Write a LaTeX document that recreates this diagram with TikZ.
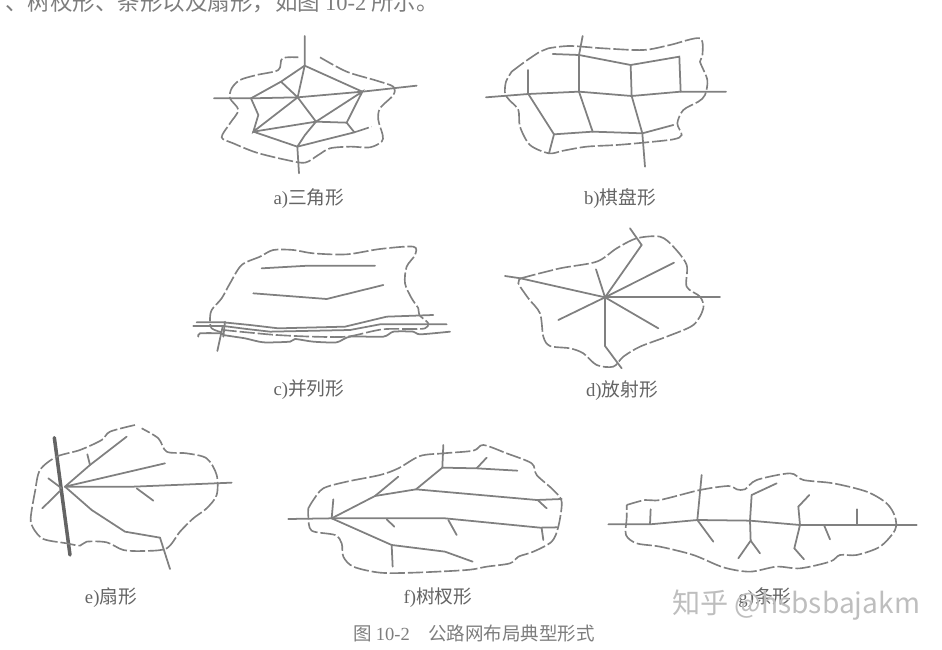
\documentclass[tikz,border=0pt]{standalone}
\usepackage{fontspec}
\setmainfont{Liberation Serif}
\newfontfamily\cjk{Noto Sans CJK SC}
\usepackage{xcolor}
\definecolor{Col1}{RGB}{128,128,128}
\definecolor{Col2}{RGB}{100,100,100}
\definecolor{Col3}{RGB}{125,125,125}
\definecolor{Col4}{RGB}{190,190,190}
\tikzstyle{Edge}=[draw=Col1,line cap=round,line width=1.5pt]
\tikzstyle{EdgeThick}=[Edge,draw=Col2,line width=3pt]
\tikzstyle{Border}=[draw=Col1,line width=1.4pt,dash pattern=on 13pt off 2.5pt]
\tikzstyle{NodeST}=[inner sep=0pt,text=Col2,font=\fontsize{16}{17}\selectfont\cjk]
\tikzstyle{NodeText}=[inner sep=0pt,anchor=west,text=Col3,font=\fontsize{19.2}{20}\selectfont\cjk]
\tikzstyle{NodeCap}=[inner sep=0pt,anchor=west,text=Col3,font=\fontsize{15.8}{17}\selectfont\cjk]
\tikzstyle{NodeMark}=[inner sep=0pt,anchor=west,text=Col4,font=\fontsize{24}{25}\selectfont\cjk]
\begin{document}
\begin{tikzpicture}[x=.03cm,y=-.03cm]
    \useasboundingbox(0,0)rectangle(942,650);
    \node[NodeText](top)at(5,2){、树杈形、条形以及扇形，如图 {\rmfamily 10-2} 所示。};
    \begin{scope}[shift={(190,20)},scale=1/3]
        \coordinate(a0)at(344,48);
        \coordinate(a1)at(344,137);
        \coordinate(a2)at(72,235);
        \coordinate(a3)at(183,235);
        \coordinate(a4)at(323,232);
        \coordinate(a5)at(517,215);
        \coordinate(a6)at(680,197);
        \coordinate(a7)at(273,185);
        \coordinate(a8)at(205,285);
        \coordinate(a9)at(190,335);
        \coordinate(a10)at(378,305);
        \coordinate(a11)at(470,308);
        \coordinate(a12)at(493,337);
        \coordinate(a13)at(322,380);
        \coordinate(a14)at(327,460);
        \coordinate(a15)at(345,345);
        \coordinate(a16)at(545,320);
        \draw[Edge](a0)--(a1)--(a4);
        \draw[Edge](a2)--(a3)--(a4)--(a5)--(a6);
        \draw[Edge](a3)--(a7)--(a1)--(a5);
        \draw[Edge](a7)--(a4)--(a9)--(a8)--(a3);
        \draw[Edge](a4)--(a10)--(a5)--(a11)--(a12);
        \draw[Edge](a10)--(a11);
        \draw[Edge](a9)--(a10)--(a15)--(a13);
        \draw[Edge](a9)--(a13)--(a12);
        \draw[Edge](a13)--(a14);
        \draw[Border](a12)--(a16);
        \draw[Border]plot[smooth,tension=.5]coordinates{(390,112)(470,155)(560,182)(610,200)(610,225)(570,265)(565,300)(578,345)(575,365)(540,382)(480,380)(420,385)(385,405)(345,428)(290,420)(200,398)(130,370)(95,352)(120,310)(145,270)(120,235)(125,205)(150,180)(200,165)(265,150)(277,115)(325,112)};
    \end{scope}
    \begin{scope}[shift={(470,20)},scale=1/3]
        \coordinate(b0)at(338,48);
        \coordinate(b1)at(327,105);
        \coordinate(b2)at(248,102);
        \coordinate(b3)at(482,135);
        \coordinate(b4)at(628,110);
        \coordinate(b5)at(175,150);
        \coordinate(b6)at(48,232);
        \coordinate(b7)at(175,222);
        \coordinate(b8)at(327,215);
        \coordinate(b9)at(485,228);
        \coordinate(b10)at(632,215);
        \coordinate(b11)at(768,215);
        \coordinate(b12)at(252,343);
        \coordinate(b13)at(368,335);
        \coordinate(b14)at(517,340);
        \coordinate(b15)at(610,315);
        \coordinate(b16)at(237,400);
        \coordinate(b17)at(525,440);
        \draw[Edge](b2)--(b1)--(b3)--(b4)--(b10);
        \draw[Edge](b0)--(b1)--(b8);
        \draw[Edge](b3)--(b9);
        \draw[Edge](b5)--(b7);
        \draw[Edge](b6)--(b7)--(b8)--(b9)--(b10)--(b11);
        \draw[Edge](b7)--(b12)--(b16);
        \draw[Edge](b8)--(b13);
        \draw[Edge](b9)--(b14)--(b17);
        \draw[Edge](b12)--(b13)--(b14)--(b15);
        \draw[Border]plot[smooth,tension=.5]coordinates{(125,155)(165,125)(210,95)(235,85)(300,78)(400,85)(520,90)(600,75)(690,55)(697,110)(690,125)(712,180)(705,225)(685,245)(640,270)(622,310)(635,345)(610,358)(520,368)(440,375)(350,380)(280,392)(237,400)(180,375)(150,320)(145,270)(118,240)(105,220)(108,185)(125,155)};
    \end{scope}
    \begin{scope}[shift={(180,225)},scale=1/3]
        \coordinate(c0)at(245,130);
        \coordinate(c1)at(385,122);
        \coordinate(c2)at(585,122);
        \coordinate(c3)at(220,205);
        \coordinate(c4)at(440,222);
        \coordinate(c5)at(610,180);
        \coordinate(c6)at(128,305);
        \coordinate(c7)at(112,378);
        \coordinate(c8)at(135,290);
        \coordinate(c9)at(130,335);
        \draw[Edge](c0)--(c1)--(c2);
        \draw[Edge](c3)--(c4)--(c5);
        \draw[Edge](c6)--(c7);
        \draw[Edge](c8)--(c9);
        \draw[Edge](50,292)--(130,292)--(210,300)--(295,310)--(495,305)--(620,275)--(760,270);
        \draw[Edge](40,303)--(130,303)--(200,312)--(270,320)--(510,315)--(600,298)--(800,298);
        \draw[Edge]plot[smooth,tension=.4]coordinates{(55,335)(60,325)(125,325)(130,330)(195,340)(250,352)(330,350)(345,342)(400,350)(470,352)(510,335)(610,335)(640,320)(700,320)(720,328)(810,320)};
        \draw[Border]plot[smooth,tension=.5]coordinates{(125,322)(95,310)(90,285)(95,255)(125,220)(150,175)(185,120)(240,95)(280,75)(340,75)(400,85)(500,88)(600,72)(700,65)(705,90)(680,125)(675,175)(695,220)(715,250)(718,270)(745,295)(735,310)(700,312)(620,312)(580,318)(500,335)(400,335)(290,330)(200,322)(130,315)};
    \end{scope}
    \begin{scope}[shift={(490,220)},scale=1/3]
        \coordinate(d0)at(345,232);
        \coordinate(d1)at(455,75);
        \coordinate(d2)at(420,25);
        \coordinate(d3)at(552,128);
        \coordinate(d4)at(690,232);
        \coordinate(d5)at(505,325);
        \coordinate(d6)at(345,378);
        \coordinate(d7)at(395,445);
        \coordinate(d8)at(205,300);
        \coordinate(d9)at(92,175);
        \coordinate(d10)at(45,168);
        \coordinate(d11)at(318,148);
        \draw[Edge](d0)--(d1)--(d2);
        \draw[Edge](d0)--(d3);
        \draw[Edge](d0)--(d4);
        \draw[Edge](d0)--(d5);
        \draw[Edge](d0)--(d6)--(d7);
        \draw[Edge](d0)--(d8);
        \draw[Edge](d0)--(d9)--(d10);
        \draw[Edge](d0)--(d11);
        \draw[Border]plot[smooth,tension=.5]coordinates{(92,175)(210,145)(320,125)(380,85)(440,55)(510,50)(550,80)(590,135)(590,200)(630,230)(640,265)(610,315)(530,350)(450,380)(400,410)(370,440)(320,435)(280,400)(240,385)(180,378)(160,350)(150,280)(115,235)(85,190)(92,175)};
    \end{scope}
    \begin{scope}[shift={(10,415)},scale=1/3]
        \coordinate(e0)at(133,68);
        \coordinate(e1)at(180,420);
        \coordinate(e2)at(165,215);
        \coordinate(e3)at(465,145);
        \coordinate(e4)at(370,215);
        \coordinate(e5)at(665,203);
        \coordinate(e6)at(240,150);
        \coordinate(e7)at(350,65);
        \coordinate(e8)at(232,118);
        \coordinate(e9)at(245,285);
        \coordinate(e10)at(345,350);
        \coordinate(e11)at(450,368);
        \coordinate(e12)at(480,462);
        \coordinate(e13)at(380,220);
        \coordinate(e14)at(430,257);
        \coordinate(e15)at(115,190);
        \coordinate(e16)at(155,220);
        \coordinate(e17)at(97,280);
        \coordinate(e18)at(150,228);
        \draw[EdgeThick](e0)--(e1);
        \draw[Edge](e2)--(e3);
        \draw[Edge](e2)--(e4)--(e5);
        \draw[Edge](e2)--(e6)--(e7);
        \draw[Edge](e6)--(e8);
        \draw[Edge](e2)--(e9)--(e10)--(e11)--(e12);
        \draw[Edge](e13)--(e14);
        \draw[Edge](e15)--(e16);
        \draw[Edge](e17)--(e18);
        \draw[Border]plot[smooth,tension=.5]coordinates{(375,30)(300,50)(275,75)(210,105)(140,125)(90,165)(75,230)(62,310)(70,340)(100,372)(170,385)(210,392)(230,380)(290,382)(340,405)(400,408)(470,400)(510,350)(550,310)(590,280)(620,240)(620,180)(590,130)(530,115)(470,110)(445,70)(395,40)};
    \end{scope}
    \begin{scope}[shift={(280,430)},scale=1/3]
        \coordinate(f0)at(25,267);
        \coordinate(f1)at(155,265);
        \coordinate(f2)at(495,265);
        \coordinate(f3)at(780,293);
        \coordinate(f4)at(832,292);
        \coordinate(f5)at(320,268);
        \coordinate(f6)at(343,290);
        \coordinate(f7)at(505,270);
        \coordinate(f8)at(530,315);
        \coordinate(f9)at(785,295);
        \coordinate(f10)at(790,330);
        \coordinate(f11)at(160,208);
        \coordinate(f12)at(285,198);
        \coordinate(f13)at(408,178);
        \coordinate(f14)at(487,113);
        \coordinate(f15)at(490,45);
        \coordinate(f16)at(355,140);
        \coordinate(f17)at(590,115);
        \coordinate(f18)at(712,122);
        \coordinate(f19)at(620,83);
        \coordinate(f20)at(770,210);
        \coordinate(f21)at(845,207);
        \coordinate(f22)at(775,212);
        \coordinate(f23)at(800,235);
        \coordinate(f24)at(335,345);
        \coordinate(f25)at(495,365);
        \coordinate(f26)at(578,395);
        \coordinate(f27)at(338,410);
        \draw[Edge](f0)--(f1)--(f2)--(f3)--(f4);
        \draw[Edge](f5)--(f6);
        \draw[Edge](f7)--(f8);
        \draw[Edge](f9)--(f10);
        \draw[Edge](f1)--(f11);
        \draw[Edge](f1)--(f12)--(f13)--(f14)--(f15);
        \draw[Edge](f12)--(f16);
        \draw[Edge](f14)--(f17)--(f18);
        \draw[Edge](f17)--(f19);
        \draw[Edge](f13)--(f20)--(f21);
        \draw[Edge](f22)--(f23);
        \draw[Edge](f1)--(f24)--(f25)--(f26);
        \draw[Edge](f24)--(f27);
        \draw[Border]plot[smooth,tension=.5]coordinates{(85,235)(100,210)(130,175)(200,155)(300,135)(355,115)(420,78)(490,70)(580,62)(610,45)(680,70)(755,100)(770,135)(820,180)(845,215)(835,290)(815,335)(760,365)(715,380)(690,400)(620,410)(560,420)(400,428)(300,428)(220,410)(190,380)(185,340)(165,315)(95,302)(85,260)(85,235)};
    \end{scope}
    \begin{scope}[shift={(600,450)},scale=1/3]
        \coordinate(g0)at(25,223);
        \coordinate(g1)at(150,223);
        \coordinate(g2)at(292,210);
        \coordinate(g3)at(450,212);
        \coordinate(g4)at(600,225);
        \coordinate(g5)at(672,225);
        \coordinate(g6)at(772,225);
        \coordinate(g7)at(950,225);
        \coordinate(g8)at(152,178);
        \coordinate(g9)at(305,75);
        \coordinate(g10)at(340,275);
        \coordinate(g11)at(455,135);
        \coordinate(g12)at(530,100);
        \coordinate(g13)at(452,272);
        \coordinate(g14)at(415,325);
        \coordinate(g15)at(480,310);
        \coordinate(g16)at(583,295);
        \coordinate(g17)at(612,328);
        \coordinate(g18)at(595,170);
        \coordinate(g19)at(628,135);
        \coordinate(g20)at(690,268);
        \coordinate(g21)at(772,178);
        \draw[Edge](g0)--(g1)--(g2)--(g3)--(g4)--(g5)--(g6)--(g7);
        \draw[Edge](g8)--(g1);
        \draw[Edge](g9)--(g2)--(g10);
        \draw[Edge](g3)--(g11)--(g12);
        \draw[Edge](g3)--(g13)--(g14);
        \draw[Edge](g13)--(g15);
        \draw[Edge](g4)--(g16)--(g17);
        \draw[Edge](g4)--(g18)--(g19);
        \draw[Edge](g5)--(g20);
        \draw[Edge](g21)--(g6);
        \draw[Border]plot[smooth,tension=.5]coordinates{(80,165)(135,150)(180,150)(300,120)(385,108)(410,118)(435,118)(470,90)(570,70)(610,90)(700,100)(800,125)(860,160)(885,200)(885,240)(840,290)(770,315)(720,315)(690,335)(600,355)(530,350)(450,365)(370,352)(280,315)(180,290)(110,280)(78,255)(80,205)(80,165)};
    \end{scope}
    \node[NodeST](la)at(309,199){{\rmfamily a)}三角形};
    \node[NodeST](lb)at(620,199){{\rmfamily b)}棋盘形};
    \node[NodeST](lc)at(309,390){{\rmfamily c)}并列形};
    \node[NodeST](ld)at(622,391){{\rmfamily d)}放射形};
    \node[NodeST](le)at(111,598){{\rmfamily e)}扇形};
    \node[NodeST](lf)at(438,598){{\rmfamily f)}树杈形};
    \node[NodeST](lg)at(765,598){{\rmfamily g)}条形};
    \node[NodeCap](cap)at(353,633){图 {\rmfamily 10-2}\quad 公路网布局典型形式};
    \node[NodeMark](mark)at(672,605){知乎 @hsbsbajakm};
\end{tikzpicture}
\end{document}
